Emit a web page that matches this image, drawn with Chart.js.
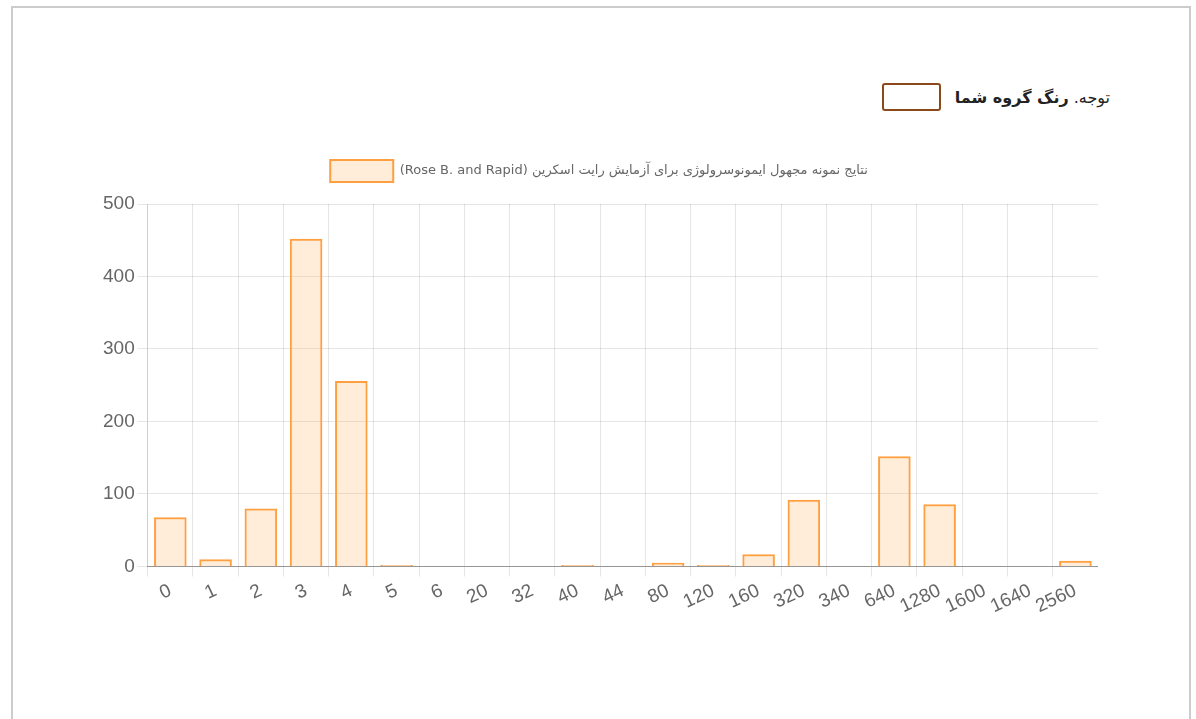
<!DOCTYPE html>
<html>
<head>
<meta charset="utf-8">
<script src="https://cdn.jsdelivr.net/npm/chart.js@4.4.0/dist/chart.umd.min.js"></script>
<style>
  body { margin: 0; background: #fff; width: 1196px; height: 719px; overflow: hidden; }
  .frame { position: absolute; left: 11px; top: 6px; width: 1176px; height: 760px; border: 2px solid #cccccc; }
  .note { position: absolute; top: 83px; right: 86px; direction: rtl; font-family: "DejaVu Sans", "Noto Sans", sans-serif; font-size: 16px; color: #222; display: flex; align-items: center; }
  .note b { font-weight: bold; }
  .swatch { display: inline-block; width: 55px; height: 24px; border: 2px solid #8a4a1a; border-radius: 3px; margin-right: 14px; }
  .chartbox { position: absolute; left: 100px; top: 150px; width: 998px; height: 471px; }
</style>
</head>
<body>
<div class="frame"></div>
<div class="note"><span>توجه. <b>رنگ گروه شما</b></span><span class="swatch"></span></div>
<div class="chartbox"><canvas id="chart"></canvas></div>
<script>
const labels = ['0', '1', '2', '3', '4', '5', '6', '20', '32', '40', '44', '80', '120', '160', '320', '340', '640', '1280', '1600', '1640', '2560'];
const counts = [68, 10, 80, 452, 256, 2, 1, 1, 1, 2, 1, 5, 2, 17, 92, 1, 152, 86, 1, 1, 8];
const seriesName = 'نتایج نمونه مجهول ایمونوسرولوژی برای آزمایش رایت اسکرین (Rose B. and Rapid)';

const tickFont = { family: '"Liberation Sans"', size: 19 };

// extra gap below the legend
const legendMargin = {
    id: 'legendMargin',
    beforeInit(chart) {
        const fit = chart.legend.fit;
        chart.legend.fit = function () {
            fit.bind(chart.legend)();
            this.height += 12;
        };
    }
};

function draw() {
    new Chart(document.getElementById('chart'), {
        type: 'bar',
        data: {
            labels: labels,
            datasets: [{
                label: seriesName,
                data: counts,
                backgroundColor: 'rgba(255, 159, 64, 0.2)',
                borderColor: 'rgba(255, 159, 64, 1)',
                borderWidth: 2
            }]
        },
        options: {
            responsive: true,
            maintainAspectRatio: false,
            animation: false,
            plugins: {
                legend: {
                    textDirection: 'rtl',
                    labels: {
                        boxWidth: 63,
                        boxHeight: 22,
                        color: '#666',
                        font: { family: '"DejaVu Sans"', size: 13 }
                    }
                },
                tooltip: { enabled: false }
            },
            scales: {
                x: {
                    grid: { color: 'rgba(0,0,0,0.1)', offset: true, tickLength: 10 },
                    border: { color: 'rgba(0,0,0,0.35)' },
                    ticks: { color: '#666', font: tickFont, autoSkip: false, minRotation: 25, maxRotation: 25 }
                },
                y: {
                    beginAtZero: true,
                    max: 500,
                    grid: { color: 'rgba(0,0,0,0.1)', tickLength: 10 },
                    border: { color: 'rgba(0,0,0,0.1)' },
                    ticks: { color: '#666', font: tickFont, stepSize: 100 }
                }
            }
        },
        plugins: [legendMargin]
    });
}

document.fonts.load('19px "Liberation Sans"').then(draw, draw);
</script>
</body>
</html>
